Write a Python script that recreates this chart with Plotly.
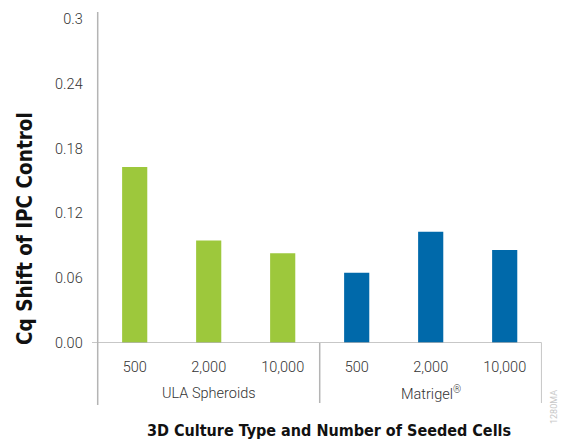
import plotly.graph_objects as go

W, H = 564, 441

groups = ["ULA Spheroids", "Matrigel<sup>®</sup>"]
seeded = ["500", "2,000", "10,000"]
ula_values = [0.163, 0.095, 0.083]
matrigel_values = [0.065, 0.103, 0.086]
y_ticks = [0, 0.06, 0.12, 0.18, 0.24, 0.3]
y_ticktext = ["0.00", "0.06", "0.12", "0.18", "0.24", "0.3"]

tick_labels = seeded + seeded
x_ula = [0, 1, 2]
x_mat = [3, 4, 5]

FONT = "Roboto, Liberation Sans Narrow, DejaVu Sans Condensed, sans-serif"
BFONT = "DejaVu Sans Condensed, Roboto, sans-serif"
GREEN = "#9DC83C"
BLUE = "#0069AA"
AX = "#B4B4B4"
TXT = "#333333"

def px_x(p):
    return p / W

def px_y(p):
    return 1 - p / H

fig = go.Figure()
fig.add_trace(go.Bar(x=x_ula, y=ula_values, marker_color=GREEN, width=0.34,
                     name="ULA Spheroids", showlegend=False))
fig.add_trace(go.Bar(x=x_mat, y=matrigel_values, marker_color=BLUE, width=0.34,
                     name="Matrigel", showlegend=False))

shapes = [
    dict(type="line", xref="paper", yref="paper", x0=px_x(97.7), x1=px_x(97.7),
         y0=px_y(12), y1=px_y(405), line=dict(color=AX, width=1.5)),
    dict(type="line", xref="paper", yref="y", x0=px_x(92), x1=px_x(541.7),
         y0=0, y1=0, line=dict(color=AX, width=1.5)),
    dict(type="line", xref="x", yref="paper", x0=2.5, x1=2.5,
         y0=px_y(343), y1=px_y(403), line=dict(color=AX, width=1.5)),
    dict(type="line", xref="x", yref="paper", x0=5.5, x1=5.5,
         y0=px_y(343), y1=px_y(403), line=dict(color=AX, width=1.5)),
]

tickfont = dict(family=FONT, size=14.5, color=TXT, weight=300)

annotations = [
    dict(text=groups[0], x=1, xref="x", y=px_y(393), yref="paper",
         showarrow=False, yanchor="middle", font=tickfont),
    dict(text=groups[1], x=4, xref="x", y=px_y(393), yref="paper",
         showarrow=False, yanchor="middle", font=tickfont),
    dict(text="<b>3D Culture Type and Number of Seeded Cells</b>", x=px_x(329), xref="paper",
         y=px_y(430), yref="paper", showarrow=False, yanchor="middle",
         font=dict(family=BFONT, size=16, color="#111111")),
    dict(text="<b>Cq Shift of IPC Control</b>", x=px_x(25), xref="paper",
         y=px_y(229), yref="paper", showarrow=False, textangle=-90,
         xanchor="center", yanchor="middle",
         font=dict(family=BFONT, size=20.5, color="#111111")),
    dict(text="1280MA", x=px_x(554), xref="paper", y=px_y(407), yref="paper",
         showarrow=False, textangle=-90, xanchor="center", yanchor="middle",
         font=dict(family=FONT, size=9, color="#C8C8C8")),
]

fig.update_layout(
    template="none",
    width=W, height=H,
    margin=dict(l=0, r=0, t=0, b=0, pad=0, autoexpand=False),
    paper_bgcolor="white", plot_bgcolor="white",
    shapes=shapes, annotations=annotations,
    xaxis=dict(domain=[px_x(97.7), px_x(541.7)], range=[-0.5, 5.5],
               tickvals=list(range(6)), ticktext=tick_labels, automargin=False,
               showgrid=False, zeroline=False, showline=False, ticks="",
               ticklabelstandoff=13, tickfont=tickfont),
    yaxis=dict(domain=[px_y(343), px_y(19)], range=[0, 0.3],
               tickvals=y_ticks, ticktext=y_ticktext, automargin=False,
               showgrid=False, zeroline=False, showline=False, ticks="",
               ticklabelstandoff=14, tickfont=tickfont),
)

post = (
    "document.documentElement.style.margin='0';"
    "document.documentElement.style.overflow='hidden';"
    "document.body.style.margin='0';"
    "document.body.style.padding='0';"
    "document.body.style.overflow='hidden';"
    "var g=document.getElementById('{plot_id}');"
    "g.style.position='fixed';g.style.top='0px';g.style.left='0px';"
)
fig.write_html("out.html", config={"displayModeBar": False}, post_script=post)
